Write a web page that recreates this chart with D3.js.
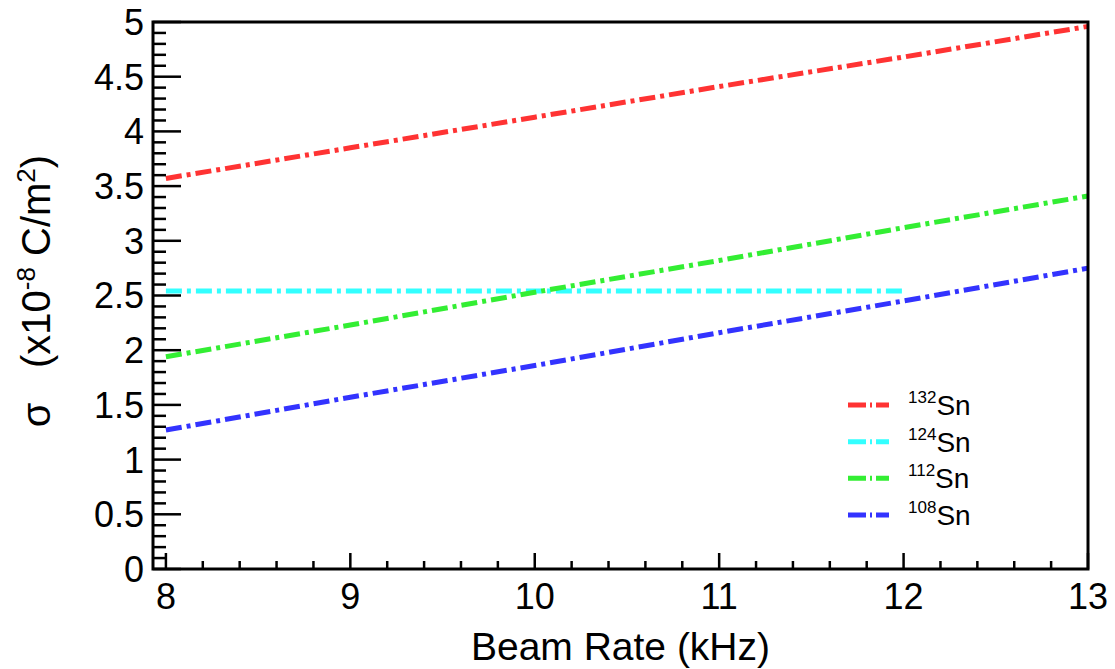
<!DOCTYPE html>
<html><head><meta charset="utf-8">
<script src="https://cdn.jsdelivr.net/npm/d3@7"></script>
<style>body{margin:0;background:#fff}svg{display:block}text{font-family:"Liberation Sans",Arial,sans-serif;fill:#000}</style>
</head><body><svg id="c" width="1115" height="669"></svg>
<script>
const rates = [8, 9, 10, 11, 12, 13];
const sn132 = [3.57, 3.85, 4.13, 4.41, 4.68, 4.96];
const sn124 = [2.54, 2.54, 2.54, 2.54, 2.54];
const sn112 = [1.94, 2.23, 2.53, 2.82, 3.12, 3.41];
const sn108 = [1.27, 1.57, 1.86, 2.16, 2.45, 2.75];
const seriesNames = ["132", "124", "112", "108"];
const seriesColors = ["#ff3333", "#33ffff", "#33ee33", "#3333ff"];
const seriesValues = [sn132, sn124, sn112, sn108];
const xTicks = [8, 9, 10, 11, 12, 13];
const yTicks = [0, 0.5, 1, 1.5, 2, 2.5, 3, 3.5, 4, 4.5, 5];

const svg = d3.select("#c");
const L = 153, R = 1088, T = 22, B = 569;
const x = d3.scaleLinear().domain([7.93, 13]).range([L, R]);
const y = d3.scaleLinear().domain([0, 5]).range([B, T]);

// series lines
const line = d3.line().x(d => x(d[0])).y(d => y(d[1]));
seriesValues.forEach((vals, i) => {
  const pts = vals.map((v, j) => [rates[j], v]);
  svg.append("path").attr("d", line(pts)).attr("fill", "none")
    .attr("stroke", seriesColors[i]).attr("stroke-width", 5)
    .attr("stroke-dasharray", "16,5,4,5");
});

// ticks
const g = svg.append("g").attr("stroke", "#000");
const xMinor = d3.range(8, 13.001, 0.2).filter(v => Math.abs(v - Math.round(v)) > 1e-6);
xMinor.forEach(v => g.append("line").attr("x1", x(v)).attr("x2", x(v)).attr("y1", B).attr("y2", B - 8).attr("stroke-width", 2.5));
xTicks.forEach(v => g.append("line").attr("x1", x(v)).attr("x2", x(v)).attr("y1", B).attr("y2", B - 16).attr("stroke-width", 2.5));
const yMinor = d3.range(0, 5.001, 0.1).filter(v => Math.abs(v * 2 - Math.round(v * 2)) > 1e-6);
yMinor.forEach(v => g.append("line").attr("x1", L).attr("x2", L + 13).attr("y1", y(v)).attr("y2", y(v)).attr("stroke-width", 2.5));
yTicks.forEach(v => g.append("line").attr("x1", L).attr("x2", L + 28).attr("y1", y(v)).attr("y2", y(v)).attr("stroke-width", 2.5));

// frame
svg.append("rect").attr("x", L).attr("y", T).attr("width", R - L).attr("height", B - T)
  .attr("fill", "none").attr("stroke", "#000").attr("stroke-width", 3);

// tick labels
const fmt = d3.format("");
xTicks.forEach(v => svg.append("text").attr("x", x(v)).attr("y", 609).attr("text-anchor", "middle")
  .attr("font-size", 36).text(fmt(v)));
yTicks.forEach(v => svg.append("text").attr("x", 144).attr("y", y(v)).attr("dy", "0.36em").attr("text-anchor", "end")
  .attr("font-size", 36).text(fmt(v)));

// axis titles
svg.append("text").attr("x", (L + R) / 2).attr("y", 660).attr("text-anchor", "middle").attr("font-size", 39).text("Beam Rate (kHz)");
svg.append("text").attr("transform", "translate(50,415) rotate(-90)").attr("text-anchor", "middle").attr("font-size", 40).text("σ");
const yt = svg.append("text").attr("transform", "translate(50,368) rotate(-90)").attr("text-anchor", "start").attr("font-size", 40);
yt.append("tspan").text("(x10");
yt.append("tspan").attr("dy", -15).attr("font-size", 26).text("-8");
yt.append("tspan").attr("dy", 15).text(" C/m");
yt.append("tspan").attr("dy", -15).attr("font-size", 26).text("2");
yt.append("tspan").attr("dy", 15).text(")");

// legend
const legY = [405, 441.7, 478.3, 515];
seriesNames.forEach((n, i) => {
  svg.append("line").attr("x1", 848).attr("x2", 889).attr("y1", legY[i]).attr("y2", legY[i])
    .attr("stroke", seriesColors[i]).attr("stroke-width", 5).attr("stroke-dasharray", "18,4,2,4");
  const t = svg.append("text").attr("x", 908).attr("y", legY[i] + 10).attr("font-size", 28);
  t.append("tspan").attr("font-size", 17).attr("dy", -12).text(n);
  t.append("tspan").attr("dy", 12).text("Sn");
});
</script></body></html>
